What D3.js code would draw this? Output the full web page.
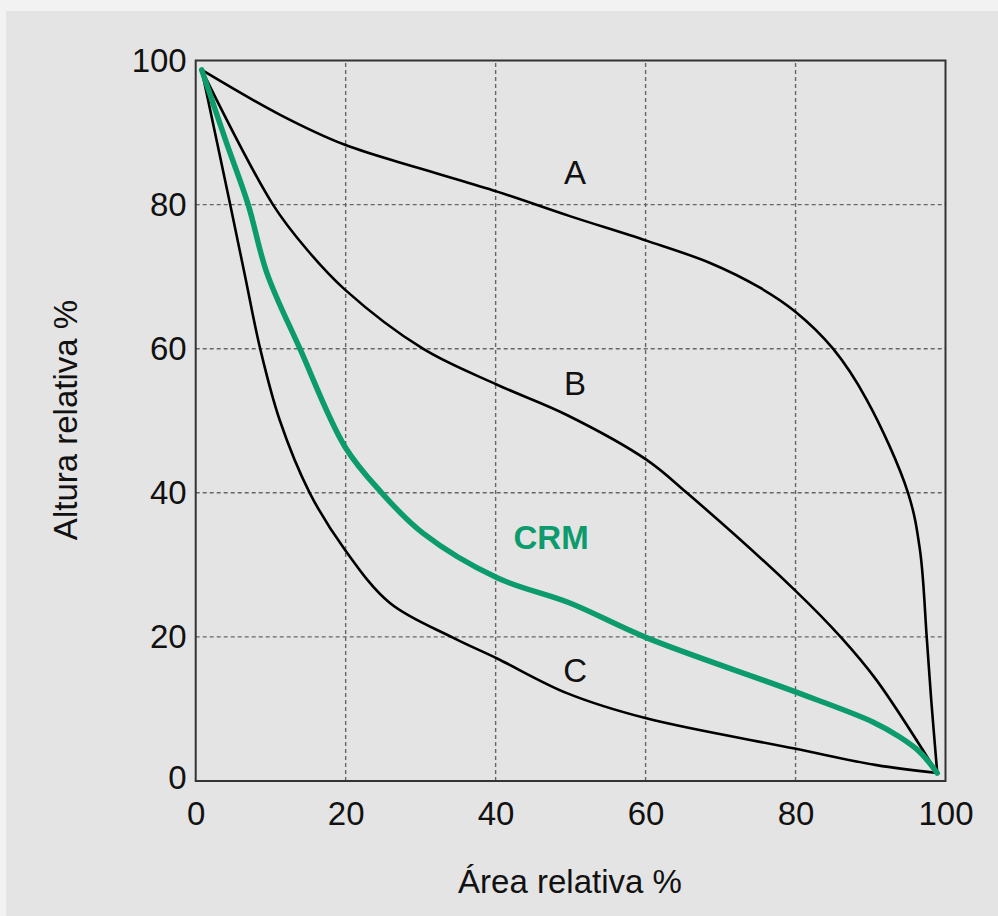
<!DOCTYPE html>
<html><head><meta charset="utf-8">
<script src="https://cdn.jsdelivr.net/npm/d3@7"></script>
<style>
html,body{margin:0;padding:0;background:#f2f2f2;}
svg{display:block;}
text{font-family:"Liberation Sans",Arial,sans-serif;}
</style></head>
<body>
<svg id="chart" width="998" height="916"></svg>
<script>
const xTicks = [0, 20, 40, 60, 80, 100];
const yTicks = [0, 20, 40, 60, 80, 100];
const gridValues = [20, 40, 60, 80];
const xTitle = "Área relativa %";
const yTitle = "Altura relativa %";

const curveA_x = [0.8, 11.2, 19.9, 30.3, 40.2, 49.9, 60.1, 68.6, 75.2, 79.9, 85.0, 89.5, 95.0, 96.6, 97.5, 98.1, 98.9];
const curveA_y = [98.7, 92.5, 88.3, 84.9, 81.8, 78.4, 75.0, 71.9, 68.5, 65.2, 60.0, 52.9, 40.0, 32.0, 19.9, 11.2, 1.1];

const curveB_x = [0.8, 10.3, 14.8, 19.9, 30.3, 40.2, 49.5, 60.1, 65.5, 79.9, 86.1, 90.8, 98.9];
const curveB_y = [98.7, 80.0, 73.8, 68.2, 60.0, 55.0, 50.8, 44.6, 40.0, 26.5, 19.9, 14.0, 1.1];

const curveC_x = [0.8, 4.6, 6.6, 8.6, 11.2, 15.2, 19.9, 25.9, 34.3, 40.2, 49.5, 60.1, 79.9, 90.8, 98.9];
const curveC_y = [98.7, 80.0, 70.0, 60.0, 50.1, 40.0, 32.1, 24.7, 19.9, 17.0, 12.2, 8.7, 4.5, 2.2, 1.1];

const curveCRM_x = [0.8, 4.1, 7.0, 9.5, 13.9, 19.9, 24.8, 30.3, 40.2, 49.9, 60.1, 79.9, 90.3, 93.9, 96.6, 98.9];
const curveCRM_y = [98.7, 88.6, 80.0, 70.5, 60.0, 46.4, 40.0, 34.4, 28.2, 24.7, 19.9, 12.4, 8.2, 6.1, 4.0, 1.1];

const labels = [
  {text: "A", x: 50.6, y: 82.9, color: "#111", weight: "normal"},
  {text: "B", x: 50.6, y: 53.6, color: "#111", weight: "normal"},
  {text: "C", x: 50.6, y: 13.8, color: "#111", weight: "normal"},
  {text: "CRM", x: 47.4, y: 32.2, color: "#0b9b6c", weight: "bold"}
];

(function () {
const svg = d3.select("#chart");
svg.append("rect").attr("x", 6).attr("y", 11).attr("width", 992).attr("height", 905).attr("fill", "#e4e4e4");

const pLeft = 195.7, pRight = 945.5, pTop = 60.5, pBottom = 781;
const x = d3.scaleLinear().domain([0, 100]).range([pLeft, pRight]);
const y = d3.scaleLinear().domain([0, 100]).range([pBottom, pTop]);

const g = svg.append("g");

// grid
g.selectAll(".vgrid").data(gridValues).enter().append("line")
  .attr("x1", d => x(d)).attr("x2", d => x(d)).attr("y1", y(0)).attr("y2", y(100))
  .attr("stroke", "#666").attr("stroke-width", 1.4).attr("stroke-dasharray", "4,3");
g.selectAll(".hgrid").data(gridValues).enter().append("line")
  .attr("y1", d => y(d)).attr("y2", d => y(d)).attr("x1", x(0)).attr("x2", x(100))
  .attr("stroke", "#666").attr("stroke-width", 1.4).attr("stroke-dasharray", "4,3");

// frame
g.append("rect").attr("x", x(0)).attr("y", y(100)).attr("width", x(100) - x(0)).attr("height", y(0) - y(100))
  .attr("fill", "none").attr("stroke", "#333").attr("stroke-width", 2);

// axes (labels only)
const xAxis = d3.axisBottom(x).tickValues(xTicks).tickSize(0).tickPadding(0);
const xa = g.append("g").attr("transform", `translate(0,${pBottom})`).call(xAxis);
xa.select(".domain").remove();
xa.selectAll("text").attr("font-size", 33).attr("fill", "#111").attr("dy", null).attr("y", 44)
  .style("font-family", "Liberation Sans, Arial, sans-serif");

const yAxis = d3.axisLeft(y).tickValues(yTicks).tickSize(0).tickPadding(0);
const ya = g.append("g").attr("transform", `translate(${pLeft - 9},0)`).call(yAxis);
ya.select(".domain").remove();
ya.selectAll("text").attr("font-size", 33).attr("fill", "#111").attr("x", 0).attr("dy", "0.33em")
  .style("font-family", "Liberation Sans, Arial, sans-serif");
ya.selectAll(".tick").filter(d => d === 0).select("text").attr("dy", "0.24em");

// curves
const line = d3.line().x(d => x(d[0])).y(d => y(d[1])).curve(d3.curveCatmullRom.alpha(0.5));
const zip = (xs, ys) => xs.map((v, i) => [v, ys[i]]);

[[curveA_x, curveA_y], [curveB_x, curveB_y], [curveC_x, curveC_y]].forEach(([xs, ys]) => {
  g.append("path").datum(zip(xs, ys)).attr("d", line)
    .attr("fill", "none").attr("stroke", "#000").attr("stroke-width", 2.6).attr("stroke-linejoin", "round");
});
g.append("path").datum(zip(curveCRM_x, curveCRM_y)).attr("d", line)
  .attr("fill", "none").attr("stroke", "#0b9b6c").attr("stroke-width", 5.5)
  .attr("stroke-linejoin", "round").attr("stroke-linecap", "round");

// curve labels
g.selectAll(".clabel").data(labels).enter().append("text")
  .attr("x", d => x(d.x)).attr("y", d => y(d.y))
  .attr("text-anchor", "middle").attr("font-size", 33)
  .attr("font-weight", d => d.weight).attr("fill", d => d.color)
  .text(d => d.text);

// titles
svg.append("text").attr("x", 570).attr("y", 893).attr("text-anchor", "middle")
  .attr("font-size", 33).attr("fill", "#111").text(xTitle);
svg.append("text").attr("transform", "translate(77,420) rotate(-90)").attr("text-anchor", "middle")
  .attr("font-size", 33).attr("fill", "#111").text(yTitle);
})();
</script>
</body></html>
